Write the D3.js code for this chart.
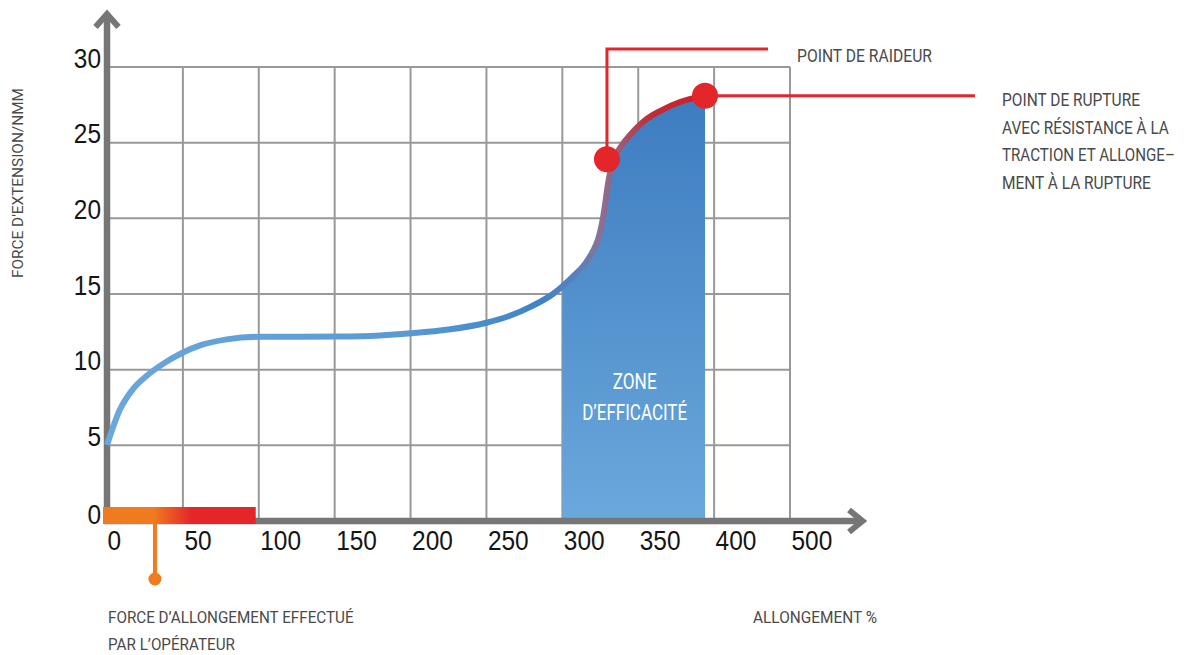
<!DOCTYPE html>
<html>
<head>
<meta charset="utf-8">
<script src="https://cdn.jsdelivr.net/npm/d3@7"></script>
<style>
    body { margin: 0; background: #fff; }
    svg { display: block; font-family: "Roboto", "Liberation Sans", sans-serif; }
</style>
</head>
<body>
<div id="chart"></div>
<script>
// Axis ticks (the last column is labelled 500 in the original)
const xTicks = [0, 50, 100, 150, 200, 250, 300, 350, 400, 450];
const xTickLabels = ["0", "50", "100", "150", "200", "250", "300", "350", "400", "500"];
const yTicks = [0, 5, 10, 15, 20, 25, 30];

// Force / elongation curve
const curveX = [0, 8.6, 17.1, 26.2, 34.9, 49.4, 61.3, 78.9, 99.5, 153.5, 180, 200, 225, 250, 265,
    280, 293.8, 306.4, 315, 320, 323.5, 326, 328, 329.5, 331, 333.4, 338, 344.6, 353.1, 364.3, 377.5, 394];
const curveY = [5.02, 7.38, 8.72, 9.6, 10.25, 11.1, 11.6, 12.0, 12.17, 12.19, 12.26, 12.4, 12.65, 13.1, 13.55,
    14.2, 15.0, 16.1, 17.0, 17.8, 18.6, 19.6, 20.8, 21.9, 22.8, 23.72, 24.65, 25.51, 26.37, 27.09, 27.69, 28.09];

const stiffnessPoint = [329.4, 23.9];
const rupturePoint = [394, 28.1];
const zoneRange = [300, 394];
const operatorRange = [0, 98];
const operatorMark = 31.6;

const data = curveX.map((d, i) => [d, curveY[i]]);

const width = 1191, height = 655;

const svg = d3.select("#chart").append("svg")
    .attr("width", width)
    .attr("height", height);

const x = d3.scaleLinear().domain([0, 450]).range([107, 790]);
const y = d3.scaleLinear().domain([0, 30]).range([521, 67]);

// squeeze text horizontally to the condensed width of the original lettering
function condense(sel, w) {
    sel.each(function () {
        const t = d3.select(this);
        const natural = this.getComputedTextLength();
        const target = typeof w === "function" ? w(this.textContent) : w;
        const tx = +t.attr("x") || 0, ty = +t.attr("y") || 0;
        const prev = t.attr("transform") || "";
        t.attr("x", 0).attr("y", 0)
            .attr("transform", `${prev} translate(${tx},${ty}) scale(${target / natural},1)`);
    });
}

const defs = svg.append("defs");

// gradients
const curveGrad = defs.append("linearGradient")
    .attr("id", "curveGrad")
    .attr("gradientUnits", "userSpaceOnUse")
    .attr("x1", x(0)).attr("x2", x(rupturePoint[0]))
    .attr("y1", 0).attr("y2", 0);
[[107, "#69a7dc"], [400, "#5a9ad4"], [540, "#3f84c7"], [580, "#5b80bc"], [598, "#857499"],
 [620, "#9e5b74"], [650, "#c02d36"], [705, "#cf1f26"]].forEach(s => {
    curveGrad.append("stop")
        .attr("offset", (s[0] - x(0)) / (x(rupturePoint[0]) - x(0)))
        .attr("stop-color", s[1]);
});

const fillGrad = defs.append("linearGradient")
    .attr("id", "fillGrad")
    .attr("x1", 0).attr("x2", 0).attr("y1", 0).attr("y2", 1);
fillGrad.append("stop").attr("offset", 0).attr("stop-color", "#3d7cc0");
fillGrad.append("stop").attr("offset", 1).attr("stop-color", "#6ba8dc");

const barGrad = defs.append("linearGradient")
    .attr("id", "barGrad");
barGrad.append("stop").attr("offset", 0).attr("stop-color", "#ef7b1e");
barGrad.append("stop").attr("offset", 0.33).attr("stop-color", "#ef7b1e");
barGrad.append("stop").attr("offset", 0.58).attr("stop-color", "#e4262a");
barGrad.append("stop").attr("offset", 1).attr("stop-color", "#e4262a");

defs.append("clipPath").attr("id", "zoneClip")
    .append("rect")
    .attr("x", x(zoneRange[0]))
    .attr("y", 0)
    .attr("width", x(zoneRange[1]) - x(zoneRange[0]))
    .attr("height", y(0));

// grid
const grid = svg.append("g").attr("stroke", "#999").attr("stroke-width", 2);
grid.selectAll(".vgrid")
    .data(xTicks.slice(1))
    .enter().append("line")
    .attr("x1", d => x(d)).attr("x2", d => x(d))
    .attr("y1", y(0)).attr("y2", y(30));
grid.selectAll(".hgrid")
    .data(yTicks.slice(1))
    .enter().append("line")
    .attr("x1", x(0)).attr("x2", x(450))
    .attr("y1", d => y(d)).attr("y2", d => y(d));

// efficiency zone
const area = d3.area()
    .x(d => x(d[0]))
    .y0(y(0))
    .y1(d => y(d[1]))
    .curve(d3.curveMonotoneX);

svg.append("path")
    .datum(data)
    .attr("d", area)
    .attr("fill", "url(#fillGrad)")
    .attr("clip-path", "url(#zoneClip)");

const zoneMid = (x(zoneRange[0]) + x(zoneRange[1])) / 2 + 1;
svg.append("text")
    .attr("x", zoneMid).attr("y", 389)
    .attr("text-anchor", "middle")
    .attr("fill", "#fff")
    .attr("font-size", 22)
    .text("ZONE")
    .call(condense, 44);
svg.append("text")
    .attr("x", zoneMid).attr("y", 420)
    .attr("text-anchor", "middle")
    .attr("fill", "#fff")
    .attr("font-size", 22)
    .text("D’EFFICACITÉ")
    .call(condense, 105);

// axes (labels only, the thick lines are drawn below)
const xAxis = svg.append("g")
    .attr("transform", `translate(0,${y(0)})`)
    .call(d3.axisBottom(x).tickValues(xTicks).tickFormat((d, i) => xTickLabels[i]).tickSize(0));
xAxis.select(".domain").remove();
xAxis.selectAll("text")
    .attr("text-anchor", "start")
    .attr("x", (d, i) => i === 0 ? 0 : 1)
    .attr("y", 29)
    .attr("dy", null)
    .attr("fill", "#151515")
    .attr("font-size", 28)
    .attr("font-family", null)
    .call(condense, s => s.length * 13.6);

const yAxis = svg.append("g")
    .attr("transform", "translate(101,0)")
    .call(d3.axisLeft(y).tickValues(yTicks).tickSize(0));
yAxis.select(".domain").remove();
yAxis.selectAll("text")
    .attr("x", 0)
    .attr("y", d => d === 0 ? 2 : 0)
    .attr("dy", null)
    .attr("fill", "#151515")
    .attr("font-size", 28)
    .attr("font-family", null)
    .call(condense, s => s.length * 13.6);

// thick axis lines with arrow heads
const axisColor = "#767676";
svg.append("line")
    .attr("x1", x(0)).attr("x2", x(0))
    .attr("y1", y(0) + 3).attr("y2", 16)
    .attr("stroke", axisColor).attr("stroke-width", 6.5);
svg.append("polyline")
    .attr("points", `${x(0) - 11.5},27 ${x(0)},14 ${x(0) + 11.5},27`)
    .attr("fill", "none").attr("stroke", axisColor).attr("stroke-width", 6)
    .attr("stroke-linejoin", "miter");
svg.append("line")
    .attr("x1", x(0) - 3).attr("x2", 860)
    .attr("y1", y(0)).attr("y2", y(0))
    .attr("stroke", axisColor).attr("stroke-width", 6.5);
svg.append("polyline")
    .attr("points", `849,${y(0) - 11} 862.5,${y(0)} 849,${y(0) + 11}`)
    .attr("fill", "none").attr("stroke", axisColor).attr("stroke-width", 6)
    .attr("stroke-linejoin", "miter");

// operator force bar
svg.append("rect")
    .attr("x", x(operatorRange[0]) - 4)
    .attr("y", y(0) - 14)
    .attr("width", x(operatorRange[1]) - x(operatorRange[0]) + 4)
    .attr("height", 17)
    .attr("fill", "url(#barGrad)");
svg.append("line")
    .attr("x1", x(operatorMark)).attr("x2", x(operatorMark))
    .attr("y1", y(0) + 3).attr("y2", 578)
    .attr("stroke", "#ef7b1e").attr("stroke-width", 4);
svg.append("circle")
    .attr("cx", x(operatorMark)).attr("cy", 579).attr("r", 6.5)
    .attr("fill", "#ef7b1e");

// curve
const line = d3.line()
    .x(d => x(d[0]))
    .y(d => y(d[1]))
    .curve(d3.curveMonotoneX);

svg.append("path")
    .datum(data)
    .attr("d", line)
    .attr("fill", "none")
    .attr("stroke", "url(#curveGrad)")
    .attr("stroke-width", 6);

// leader lines and points
const red = "#e3262a";
svg.append("path")
    .attr("d", `M${x(stiffnessPoint[0])},${y(stiffnessPoint[1])}V49H768`)
    .attr("fill", "none").attr("stroke", red).attr("stroke-width", 3);
svg.append("path")
    .attr("d", `M${x(rupturePoint[0])},${y(rupturePoint[1])}H975`)
    .attr("fill", "none").attr("stroke", red).attr("stroke-width", 3);

svg.selectAll(".pt")
    .data([stiffnessPoint, rupturePoint])
    .enter().append("circle")
    .attr("cx", d => x(d[0]))
    .attr("cy", d => y(d[1]))
    .attr("r", 13)
    .attr("fill", red);

// annotation texts
const textColor = "#4a4a4a";
svg.append("text")
    .attr("x", 797).attr("y", 62)
    .attr("fill", textColor).attr("font-size", 19)
    .text("POINT DE RAIDEUR")
    .call(condense, 135);

const ruptureLines = ["POINT DE RUPTURE", "AVEC RÉSISTANCE À LA", "TRACTION ET ALLONGE–", "MENT À LA RUPTURE"];
const ruptureWidths = [138, 167, 173, 149];
svg.selectAll(".rup")
    .data(ruptureLines)
    .enter().append("text")
    .attr("x", 1002)
    .attr("y", (d, i) => 106 + i * 27.7)
    .attr("fill", textColor).attr("font-size", 19)
    .text(d => d)
    .each(function (d, i) { d3.select(this).call(condense, ruptureWidths[i]); });

svg.append("text")
    .attr("x", 108).attr("y", 623)
    .attr("fill", textColor).attr("font-size", 17)
    .text("FORCE D’ALLONGEMENT EFFECTUÉ")
    .call(condense, 246);
svg.append("text")
    .attr("x", 108).attr("y", 650)
    .attr("fill", textColor).attr("font-size", 17)
    .text("PAR L’OPÉRATEUR")
    .call(condense, 127);

svg.append("text")
    .attr("x", 753).attr("y", 623)
    .attr("fill", textColor).attr("font-size", 17)
    .text("ALLONGEMENT %")
    .call(condense, 124);

svg.append("text")
    .attr("transform", "translate(23,183) rotate(-90)")
    .attr("text-anchor", "middle")
    .attr("fill", textColor).attr("font-size", 15)
    .text("FORCE D'EXTENSION/NMM")
    .call(condense, 190);
</script>
</body>
</html>
